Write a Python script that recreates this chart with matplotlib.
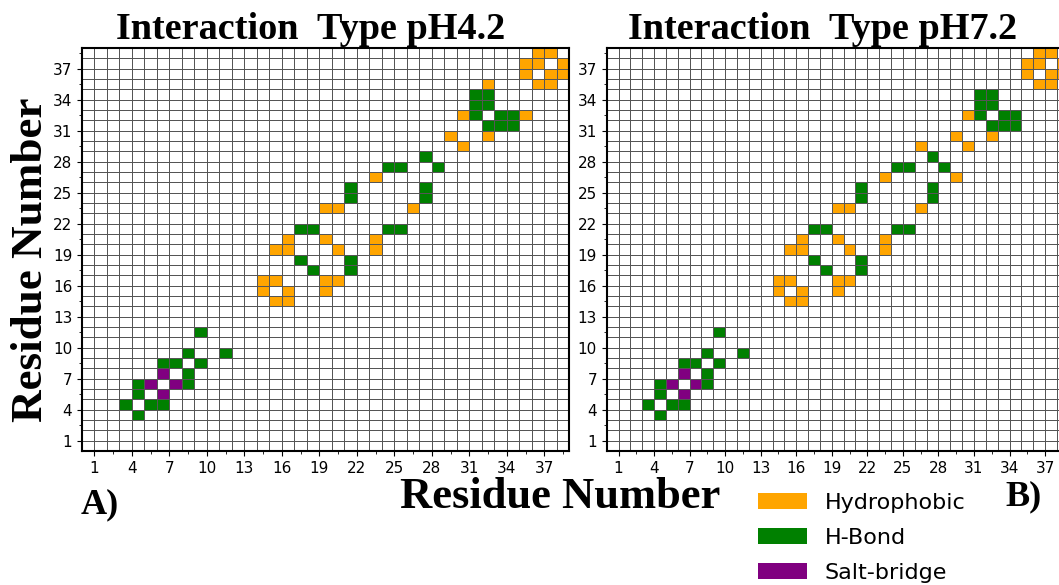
import numpy as np
import matplotlib
matplotlib.use("Agg")
import matplotlib.pyplot as plt
from matplotlib.colors import ListedColormap
from matplotlib.patches import Patch

# residue grid 0..38, cell (i, j) drawn from i..i+1
n_res = 39
tick_vals = list(range(1, 38, 3))

# contact pairs (i < j), mirrored below
hydrophobic_common = [(14, 15), (14, 16), (15, 16), (15, 19), (16, 19), (16, 20),
                      (19, 20), (19, 23), (20, 23), (23, 26), (29, 30), (30, 32),
                      (35, 36), (35, 37), (36, 37), (36, 38), (37, 38)]
hydrophobic_ph42 = hydrophobic_common + [(32, 35)]
hydrophobic_ph72 = hydrophobic_common + [(26, 29)]
hbond = [(3, 4), (4, 5), (4, 6), (6, 8), (7, 8), (8, 9), (9, 11), (17, 18),
         (17, 21), (18, 21), (21, 24), (21, 25), (24, 27), (25, 27), (27, 28),
         (31, 32), (31, 33), (31, 34), (32, 33), (32, 34)]
saltbridge = [(5, 6), (6, 7)]

type_names = ["Hydrophobic", "H-Bond", "Salt-bridge"]
type_colors = ["orange", "green", "purple"]


def build(hphob, hb, sb):
    m = np.zeros((n_res, n_res))
    for code, pairs in ((1, hphob), (2, hb), (3, sb)):
        for i, j in pairs:
            m[i, j] = code
            m[j, i] = code
    return m


cmap = ListedColormap(["white"] + type_colors)
serif = "Liberation Serif"

fig = plt.figure(figsize=(10.59, 5.85), dpi=100)
ax1 = fig.add_axes([0.0774, 0.229, 0.4603, 0.689])
ax2 = fig.add_axes([0.5729, 0.229, 0.4363, 0.689])

panels = [(ax1, build(hydrophobic_ph42, hbond, saltbridge)),
          (ax2, build(hydrophobic_ph72, hbond, saltbridge))]
edges = np.arange(n_res + 1)
for ax, m in panels:
    ax.pcolormesh(edges, edges, m, cmap=cmap, vmin=-0.5, vmax=3.5,
                  edgecolors="#555555", linewidth=0.55)
    ax.set_xlim(0, n_res)
    ax.set_ylim(0, n_res)
    ax.set_xticks(tick_vals)
    ax.set_yticks(tick_vals)
    ax.set_xticks(np.arange(2.5, n_res, 3), minor=True)
    ax.set_yticks(np.arange(2.5, n_res, 3), minor=True)
    ax.tick_params(labelsize=11)
    for s in ax.spines.values():
        s.set_linewidth(1.5)

fig.text(0.293, 0.95, "Interaction  Type pH4.2", family=serif, weight="bold",
         fontsize=27.5, ha="center", va="center")
fig.text(0.777, 0.95, "Interaction  Type pH7.2", family=serif, weight="bold",
         fontsize=27.5, ha="center", va="center")
fig.text(0.029, 0.556, "Residue Number", family=serif, weight="bold",
         fontsize=32.5, rotation=90, ha="center", va="center")
fig.text(0.529, 0.150, "Residue Number", family=serif, weight="bold",
         fontsize=32, ha="center", va="center")
fig.text(0.094, 0.137, "A)", family=serif, weight="bold", fontsize=26,
         ha="center", va="center")
fig.text(0.967, 0.150, "B)", family=serif, weight="bold", fontsize=26,
         ha="center", va="center")

handles = [Patch(facecolor=c, edgecolor="none") for c in type_colors]
fig.legend(handles, type_names, loc="upper left", bbox_to_anchor=(0.697, 0.192),
           frameon=False, fontsize=16, handlelength=2.2, handleheight=0.7,
           handletextpad=0.8, labelspacing=0.68)

fig.savefig("out.png", dpi=100)
